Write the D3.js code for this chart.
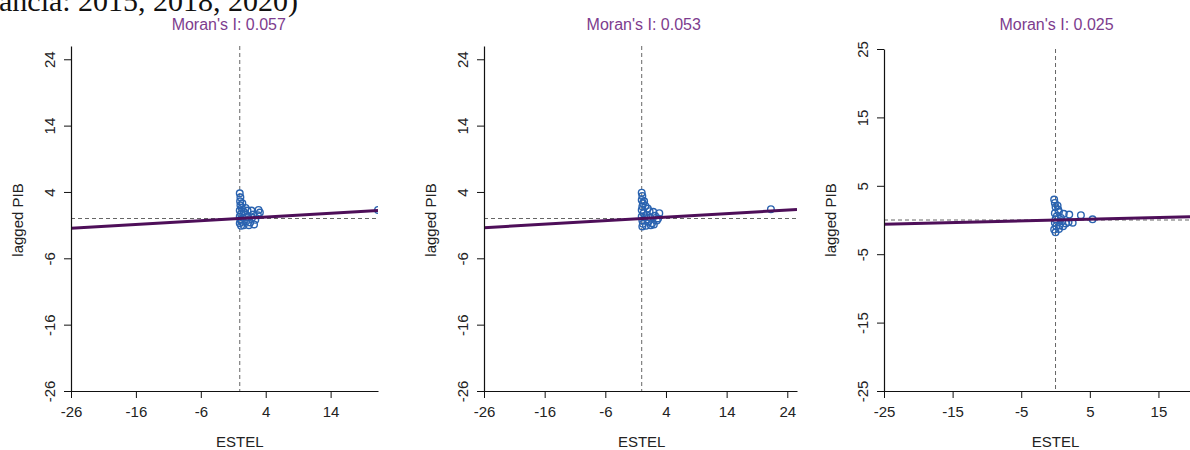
<!DOCTYPE html>
<html>
<head>
<meta charset="utf-8">
<script src="https://cdn.jsdelivr.net/npm/d3@7"></script>
<style>
  body { margin: 0; background: #fff; }
  svg { display: block; font-family: 'Liberation Sans', Arial, sans-serif; }
</style>
</head>
<body>
<div id="chart"></div>
<script>
// values
const moranI = [0.057, 0.053, 0.025]
const titles = ["Moran's I: 0.057", "Moran's I: 0.053", "Moran's I: 0.025"]

const estelA = [0.0, 0.1, 0.05, 0.1, 0.3, 0.0, 0.2, 0.0, 0.1, 0.0, 0.2, 0.6, 0.9, 1.2, 0.8, 1.3, 1.0, 1.6, 1.8, 2.1, 2.4, 2.9, 2.8, 2.2, 0.5, 1.9, 3.1, 0.4, 0.6, 1.4, 0.3, 21.3]
const lagA = [3.8, 3.2, 2.6, 2.0, 1.6, 1.2, 0.7, 0.3, -0.2, -0.7, -1.1, -1.0, 1.6, 1.2, 0.6, 0.2, -0.4, -0.6, 1.2, 0.6, -0.2, 1.3, 0.5, -0.9, 0.1, 0.1, 0.9, 2.3, 1.0, -1.0, -0.5, 1.3]

const estelB = [0.0, 0.1, 0.0, 0.2, 0.1, 0.0, 0.3, 0.0, 0.1, 0.2, 0.1, 0.7, 1.0, 1.3, 0.8, 1.4, 1.1, 1.7, 1.9, 2.2, 2.5, 2.9, 2.7, 2.0, 0.5, 0.4, 0.6, 1.5, 21.3]
const lagB = [3.9, 3.4, 2.8, 2.3, 1.8, 1.3, 0.8, 0.3, -0.3, -0.8, -1.2, -1.1, 1.5, 1.1, 0.5, 0.1, -0.5, -0.7, 1.0, 0.4, -0.3, 0.8, 0.0, -0.9, 0.2, 2.6, 1.9, -1.0, 1.4]

const estelC = [-0.2, -0.1, 0.0, 0.4, -0.1, 0.2, 0.0, -0.1, 0.1, -0.2, 0.0, 0.8, 1.2, 1.0, 1.5, 2.0, 1.9, 2.5, 0.6, 0.5, 1.1, 0.3, 0.5, 3.7, 5.4]
const lagC = [3.0, 2.5, 1.9, 1.5, 1.0, 0.6, 0.1, -0.4, -0.9, -1.4, -1.8, 0.3, 0.9, -0.2, -0.5, 0.8, -0.3, -0.4, -0.8, -1.3, -0.9, 2.1, 1.2, 0.7, 0.1]

const xTicks = [[-26, -16, -6, 4, 14], [-26, -16, -6, 4, 14, 24], [-25, -15, -5, 5, 15]]
const yTicks = [[-26, -16, -6, 4, 14, 24], [-26, -16, -6, 4, 14, 24], [-25, -15, -5, 5, 15, 25]]

// layout of the three panels
const panels = [
  { estel: estelA, lag: lagA, xDomain: [-26, 21.3], xRange: [71, 378], yDomain: [-26, 26], yRange: [391, 46], titleShift: -11 },
  { estel: estelB, lag: lagB, xDomain: [-26, 25.6], xRange: [484, 797], yDomain: [-26, 26], yRange: [391, 46], titleShift: 2 },
  { estel: estelC, lag: lagC, xDomain: [-25, 19.6], xRange: [884, 1190], yDomain: [-25, 25], yRange: [391, 49], titleShift: 1 }
]

const svg = d3
  .select('#chart')
  .append('svg')
  .attr('width', 1190)
  .attr('height', 450)

// caption line above the plots, cut off by the top edge as in the source
svg
  .append('text')
  .attr('x', -1)
  .attr('y', 11)
  .attr('font-family', "'Liberation Serif', 'Times New Roman', serif")
  .attr('font-size', 30)
  .attr('fill', '#111')
  .text('ancia: 2015, 2018, 2020)')

panels.forEach((p, i) => {
  const x = d3.scaleLinear().domain(p.xDomain).range(p.xRange)
  const y = d3.scaleLinear().domain(p.yDomain).range(p.yRange)
  const g = svg.append('g')

  g.append('clipPath')
    .attr('id', 'clip' + i)
    .append('rect')
    .attr('x', p.xRange[0])
    .attr('y', p.yRange[1])
    .attr('width', p.xRange[1] - p.xRange[0])
    .attr('height', p.yRange[0] - p.yRange[1])

  const plot = g.append('g').attr('clip-path', 'url(#clip' + i + ')')

  // reference lines at the means
  plot.append('line')
    .attr('x1', x(0)).attr('x2', x(0))
    .attr('y1', p.yRange[1]).attr('y2', p.yRange[0])
    .attr('stroke', '#666')
    .attr('stroke-dasharray', '4,3')
  plot.append('line')
    .attr('x1', p.xRange[0]).attr('x2', p.xRange[1])
    .attr('y1', y(0)).attr('y2', y(0))
    .attr('stroke', '#666')
    .attr('stroke-dasharray', '4,3')

  const pts = p.estel.map((d, j) => ({ x: d, y: p.lag[j] }))
  plot.selectAll('.pt')
    .data(pts)
    .enter()
    .append('circle')
    .attr('class', 'pt')
    .attr('cx', d => x(d.x))
    .attr('cy', d => y(d.y))
    .attr('r', 3.3)
    .attr('fill', 'none')
    .attr('stroke', '#2a63b0')
    .attr('stroke-width', 1.4)

  // regression line, slope = Moran's I
  const line = d3.line().x(d => x(d)).y(d => y(d * moranI[i]))
  plot.append('path')
    .attr('d', line(p.xDomain))
    .attr('stroke', '#4e0f59')
    .attr('stroke-width', 3)
    .attr('fill', 'none')

  // axes
  const xAxis = g.append('g')
    .attr('transform', 'translate(0,' + p.yRange[0] + ')')
    .call(d3.axisBottom(x).tickValues(xTicks[i]).tickFormat(d => String(d)).tickSize(7).tickSizeOuter(0).tickPadding(8))
  xAxis.selectAll('text').attr('font-size', 15).attr('fill', '#222')

  const yAxis = g.append('g')
    .attr('transform', 'translate(' + p.xRange[0] + ',0)')
    .call(d3.axisLeft(y).tickValues(yTicks[i]).tickFormat(d => String(d)).tickSize(7).tickSizeOuter(0))
  yAxis.selectAll('text')
    .attr('font-size', 15)
    .attr('fill', '#222')
    .attr('transform', 'rotate(-90)')
    .attr('x', 0)
    .attr('y', -16)
    .attr('dy', 0)
    .attr('text-anchor', 'middle')
  g.selectAll('.domain').attr('stroke', '#111').attr('stroke-width', 1.2)
  g.selectAll('.tick line').attr('stroke', '#111')

  g.append('text')
    .attr('x', x(0))
    .attr('y', 447)
    .attr('text-anchor', 'middle')
    .attr('font-size', 15)
    .attr('fill', '#222')
    .text('ESTEL')

  g.append('text')
    .attr('transform', 'translate(' + (p.xRange[0] - 48) + ',220) rotate(-90)')
    .attr('text-anchor', 'middle')
    .attr('font-size', 15)
    .attr('fill', '#222')
    .text('lagged PIB')

  g.append('text')
    .attr('x', x(0) + p.titleShift)
    .attr('y', 30)
    .attr('text-anchor', 'middle')
    .attr('font-size', 16)
    .attr('fill', '#7d3c8e')
    .text(titles[i])
})
</script>
</body>
</html>
